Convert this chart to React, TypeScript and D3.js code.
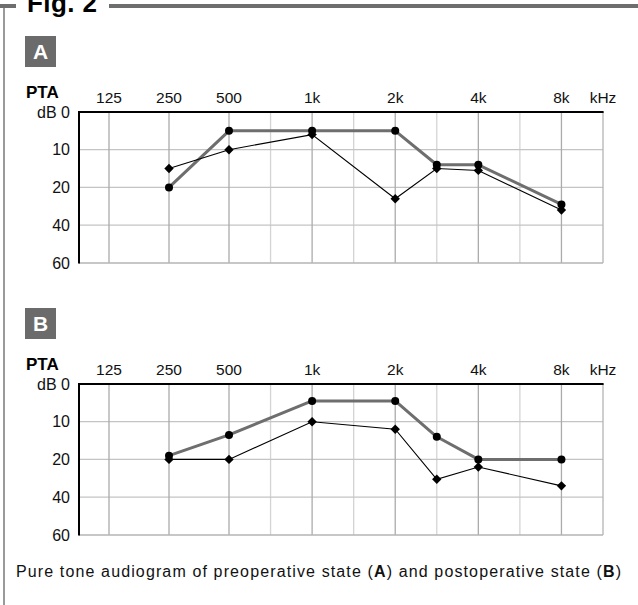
import React, { useEffect, useRef } from 'react';
import * as d3 from 'd3';

// audiogram frequency positions (octaves above 125 Hz, 3k etc. at midpoints)
const freqLabels = ['125', '250', '500', '1k', '2k', '4k', '8k'];
const majorOctaves = [0, 1, 2, 3, 4, 5, 6];
const minorOctaves = [2.5, 3.5, 4.5, 5.5];
const dbTicks = [0, 10, 20, 40, 60];
const dbGrid = [10, 20, 40];

// measured frequencies for both series
const testOctaves = [1, 2, 3, 4, 4.5, 5, 6]; // 250, 500, 1k, 2k, 3k, 4k, 8k

// (A) preoperative
const preGray = [20, 5, 5, 5, 14, 14, 29];
const preBlack = [15, 10, 6, 26, 15, 15.5, 32];
// (B) postoperative
const postGray = [19, 13.5, 4.5, 4.5, 14, 20, 20];
const postBlack = [20, 20, 10, 12, 30.5, 24, 34];

const W = 638;
const H = 605;
const FONT = '"Liberation Sans", Arial, sans-serif';

const App: React.FC = () => {
  const svgRef = useRef<SVGSVGElement | null>(null);

  useEffect(() => {
    if (!svgRef.current) return;
    const svg = d3.select(svgRef.current);
    svg.selectAll('*').remove();

    // frame
    svg.append('line').attr('x1', 4).attr('x2', 4).attr('y1', 6).attr('y2', H)
      .attr('stroke', '#9a9a9a').attr('stroke-width', 2);
    svg.append('line').attr('x1', 0).attr('x2', 16).attr('y1', 6).attr('y2', 6)
      .attr('stroke', '#6e6e6e').attr('stroke-width', 4);
    svg.append('line').attr('x1', 109).attr('x2', W).attr('y1', 6).attr('y2', 6)
      .attr('stroke', '#6e6e6e').attr('stroke-width', 4);
    svg.append('text').attr('x', 27).attr('y', 12)
      .attr('textLength', 70).attr('lengthAdjust', 'spacing')
      .style('font-family', FONT).style('font-weight', 900).style('font-size', '26px')
      .attr('fill', '#000').text('Fig.  2');

    const x = d3.scaleLinear().domain([-0.5, 2, 6.5]).range([79, 229, 603]);

    const drawPanel = (top: number, letter: string, gray: number[], black: number[]) => {
      const g = svg.append('g');
      const y = d3.scaleLinear().domain([0, 20, 60]).range([top, top + 75.4, top + 151]);
      const [x0, x1] = [x(-0.5), x(6.5)];
      const [y0, y1] = [y(0), y(60)];

      // badge
      g.append('rect').attr('x', 25).attr('y', top - 76).attr('width', 31).attr('height', 31)
        .attr('fill', '#6b6b6b');
      g.append('text').attr('x', 40.5).attr('y', top - 53).attr('text-anchor', 'middle')
        .style('font-family', FONT).style('font-weight', 'bold').style('font-size', '21px')
        .attr('fill', '#fff').text(letter);

      // grid
      g.selectAll('.minor').data(minorOctaves).join('line')
        .attr('x1', (d) => x(d)).attr('x2', (d) => x(d)).attr('y1', y0).attr('y2', y1)
        .attr('stroke', '#d4d4d4').attr('stroke-width', 1.3);
      g.selectAll('.hgrid').data(dbGrid).join('line')
        .attr('x1', x0).attr('x2', x1).attr('y1', (d) => y(d)).attr('y2', (d) => y(d))
        .attr('stroke', '#c4c4c4').attr('stroke-width', 1.3);
      g.selectAll('.major').data(majorOctaves).join('line')
        .attr('x1', (d) => x(d)).attr('x2', (d) => x(d)).attr('y1', y0).attr('y2', y1)
        .attr('stroke', '#ababab').attr('stroke-width', 1.3);

      // borders
      g.append('line').attr('x1', x1).attr('x2', x1).attr('y1', y0).attr('y2', y1)
        .attr('stroke', '#b4b4b4').attr('stroke-width', 1.3);
      g.append('line').attr('x1', x0).attr('x2', x1).attr('y1', y1).attr('y2', y1)
        .attr('stroke', '#b4b4b4').attr('stroke-width', 1.3);
      g.append('line').attr('x1', x0).attr('x2', x0).attr('y1', y0 - 1).attr('y2', y1 + 0.6)
        .attr('stroke', '#000').attr('stroke-width', 2);
      g.append('line').attr('x1', x0 - 1).attr('x2', x1 + 0.6).attr('y1', y0).attr('y2', y0)
        .attr('stroke', '#000').attr('stroke-width', 2);

      // labels
      g.append('text').attr('x', 26).attr('y', top - 14)
        .style('font-family', FONT).style('font-weight', 'bold').style('font-size', '17px')
        .attr('fill', '#000').text('PTA');
      g.selectAll('.flab').data(freqLabels).join('text')
        .attr('x', (_d, i) => x(majorOctaves[i])).attr('y', top - 9)
        .attr('text-anchor', 'middle')
        .style('font-family', FONT).style('font-size', '15.5px').attr('fill', '#111')
        .text((d) => d);
      g.append('text').attr('x', x1).attr('y', top - 9).attr('text-anchor', 'middle')
        .style('font-family', FONT).style('font-size', '15.5px').attr('fill', '#111').text('kHz');
      g.selectAll('.ylab').data(dbTicks).join('text')
        .attr('x', 70).attr('y', (d) => y(d) + 5.5).attr('text-anchor', 'end')
        .style('font-family', FONT).style('font-size', '16px').attr('fill', '#111')
        .text((d) => (d === 0 ? 'dB 0' : String(d)));

      // series
      const line = d3.line<number>().x((_d, i) => x(testOctaves[i])).y((d) => y(d));
      g.append('path').attr('d', line(gray)).attr('fill', 'none')
        .attr('stroke', '#6e6e6e').attr('stroke-width', 3).attr('stroke-linejoin', 'round');
      g.append('path').attr('d', line(black)).attr('fill', 'none')
        .attr('stroke', '#000').attr('stroke-width', 1.1);

      const diamond = d3.symbol().type(d3.symbolSquare).size(44);
      g.selectAll('.dia').data(black).join('path')
        .attr('d', diamond())
        .attr('transform', (d, i) => `translate(${x(testOctaves[i])},${y(d)}) rotate(45)`)
        .attr('fill', '#000');
      g.selectAll('.dot').data(gray).join('circle')
        .attr('cx', (_d, i) => x(testOctaves[i])).attr('cy', (d) => y(d)).attr('r', 4)
        .attr('fill', '#000');
    };

    drawPanel(112, 'A', preGray, preBlack);
    drawPanel(384, 'B', postGray, postBlack);

    // caption
    const cap = svg.append('text').attr('x', 16).attr('y', 577)
      .attr('textLength', 605).attr('lengthAdjust', 'spacing')
      .style('font-family', FONT).style('font-size', '16px').attr('fill', '#111');
    cap.append('tspan').text('Pure tone audiogram of preoperative state (');
    cap.append('tspan').style('font-weight', 'bold').text('A');
    cap.append('tspan').text(') and postoperative state (');
    cap.append('tspan').style('font-weight', 'bold').text('B');
    cap.append('tspan').text(')');

    return () => { svg.selectAll('*').remove(); };
  }, []);

  return (
    <svg ref={svgRef} width={W} height={H}
      style={{ position: 'absolute', left: 0, top: 0, background: '#fff' }} />
  );
};

export default App;
